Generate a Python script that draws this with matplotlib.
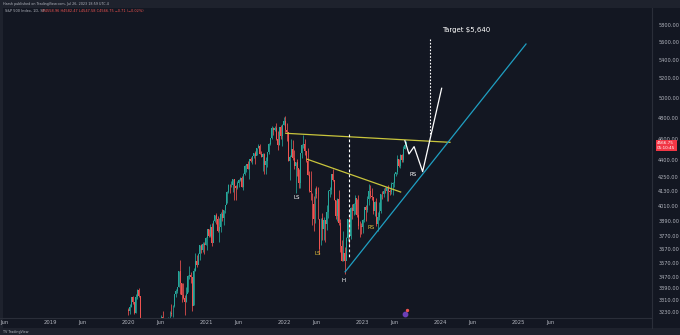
import matplotlib
matplotlib.use("Agg")
import matplotlib.pyplot as plt
import matplotlib.dates as mdates
import matplotlib.ticker as mticker
import matplotlib.transforms as mtransforms
from matplotlib.patches import Rectangle
from matplotlib.lines import Line2D
import numpy as np
import pandas as pd

BG = "#131722"
PANEL = "#1e222d"
BORDER = "#2a2e39"
TEXT = "#b2b5be"
UP = "#26a69a"
DOWN = "#ef5350"
NECK = "#c9c53c"
SUPPORT = "#1f9fc2"

# S&P 500 weekly candles, week ending 2020-01-03 .. 2023-07-26
first_week_end = "2020-01-03"
prev_close = 3240.02

weekly_close = [
    3234.85, 3265.35, 3329.62, 3295.47, 3225.52, 3327.71, 3380.16, 3337.75, 2954.22, 2972.37,
    2711.02, 2304.92, 2541.47, 2488.65, 2789.82, 2874.56, 2836.74, 2830.71, 2929.80, 2863.70,
    2955.45, 3044.31, 3193.93, 3041.31, 3097.74, 3009.05, 3130.01, 3185.04, 3224.73, 3215.63,
    3271.12, 3351.28, 3372.85, 3397.16, 3508.01, 3426.96, 3340.97, 3319.47, 3298.46, 3348.44,
    3477.13, 3483.81, 3465.39, 3269.96, 3509.44, 3585.15, 3557.54, 3638.35, 3699.12, 3663.46,
    3709.41, 3703.06, 3756.07,
    3824.68, 3768.25, 3841.47, 3714.24, 3886.83, 3934.83, 3906.71, 3811.15, 3841.94, 3943.34,
    3913.10, 3974.54, 4019.87, 4128.80, 4185.47, 4180.17, 4181.17, 4232.60, 4173.85, 4155.86,
    4204.11, 4229.89, 4247.44, 4166.45, 4280.70, 4352.34, 4369.55, 4327.16, 4411.79, 4395.26,
    4436.52, 4468.00, 4441.67, 4509.37, 4535.43, 4458.58, 4432.99, 4455.48, 4357.04, 4391.34,
    4471.37, 4544.90, 4605.38, 4697.53, 4682.85, 4697.96, 4594.62, 4538.43, 4712.02, 4620.64,
    4725.79, 4766.18,
    4677.03, 4662.85, 4397.94, 4431.85, 4500.53, 4418.64, 4348.87, 4384.65, 4328.87, 4204.31,
    4463.12, 4543.06, 4545.86, 4488.28, 4392.59, 4271.78, 4131.93, 4123.34, 4023.89, 3901.36,
    4158.24, 4108.54, 3900.86, 3674.84, 3911.74, 3825.33, 3899.38, 3863.16, 3961.63, 4130.29,
    4145.19, 4280.15, 4228.48, 4057.66, 3924.26, 4067.36, 3873.33, 3693.23, 3585.62, 3639.66,
    3583.07, 3752.75, 3901.06, 3770.55, 3992.93, 3965.34, 4026.12, 4071.70, 3934.38, 3852.36,
    3844.82, 3839.50,
    3895.08, 3999.09, 3972.61, 4070.56, 4136.48, 4090.46, 4079.09, 3970.04, 4045.64, 3861.59,
    3916.64, 3970.99, 4109.31, 4105.02, 4137.64, 4133.52, 4169.48, 4136.25, 4124.08, 4191.98,
    4205.45, 4282.37, 4298.86, 4409.59, 4348.33, 4450.38, 4398.95, 4505.42, 4536.34, 4566.75,
]

weekly_high = [
    3258, 3282, 3330, 3338, 3284, 3347, 3385, 3393, 3338, 3136,
    2882, 2613, 2637, 2641, 2818, 2879, 2844, 2954, 2933, 2945,
    2980, 3068, 3211, 3233, 3155, 3154, 3165, 3198, 3233, 3280,
    3279, 3352, 3387, 3399, 3509, 3588, 3425, 3429, 3343, 3397,
    3482, 3550, 3502, 3465, 3529, 3646, 3628, 3644, 3699, 3712,
    3726, 3723, 3760,
    3826, 3823, 3861, 3870, 3894, 3937, 3950, 3929, 3915, 3960,
    3983, 3978, 4021, 4130, 4192, 4195, 4218, 4238, 4237, 4188,
    4219, 4234, 4249, 4262, 4286, 4356, 4372, 4393, 4415, 4429,
    4441, 4468, 4481, 4513, 4546, 4549, 4485, 4465, 4466, 4429,
    4475, 4560, 4608, 4718, 4714, 4718, 4744, 4672, 4713, 4731,
    4740, 4808,
    4819, 4749, 4665, 4453, 4595, 4590, 4490, 4385, 4416, 4320,
    4465, 4546, 4637, 4593, 4471, 4513, 4308, 4308, 4117, 4091,
    4159, 4178, 4169, 3838, 3913, 3950, 3918, 3888, 4013, 4140,
    4167, 4281, 4325, 4203, 4062, 4076, 4140, 3906, 3739, 3807,
    3685, 3762, 3905, 3918, 4001, 4028, 4034, 4101, 4069, 4101,
    3890, 3872,
    3906, 4003, 4015, 4095, 4195, 4182, 4156, 4081, 4048, 4078,
    3964, 4039, 4110, 4133, 4163, 4170, 4170, 4186, 4154, 4213,
    4213, 4290, 4299, 4448, 4410, 4458, 4456, 4528, 4578, 4582,
]

weekly_low = [
    3212, 3214, 3263, 3281, 3214, 3223, 3315, 3328, 2855, 2901,
    2478, 2280, 2192, 2447, 2575, 2727, 2727, 2822, 2797, 2766,
    2906, 2969, 3039, 2999, 2965, 3004, 2999, 3115, 3127, 3201,
    3199, 3260, 3330, 3355, 3401, 3349, 3297, 3314, 3209, 3294,
    3361, 3453, 3425, 3234, 3279, 3511, 3543, 3569, 3594, 3644,
    3648, 3636, 3699,
    3663, 3764, 3766, 3694, 3725, 3884, 3866, 3805, 3723, 3804,
    3885, 3853, 3950, 4035, 4118, 4118, 4167, 4128, 4057, 4062,
    4152, 4168, 4217, 4164, 4145, 4271, 4300, 4320, 4233, 4381,
    4371, 4425, 4367, 4452, 4513, 4457, 4427, 4306, 4279, 4278,
    4339, 4456, 4538, 4596, 4630, 4672, 4586, 4495, 4540, 4600,
    4531, 4733,
    4662, 4582, 4395, 4223, 4435, 4402, 4327, 4115, 4262, 4157,
    4162, 4425, 4517, 4445, 4381, 4267, 4124, 4062, 3859, 3810,
    3875, 4074, 3900, 3637, 3705, 3738, 3743, 3722, 3818, 3911,
    4080, 4107, 4219, 4057, 3906, 3886, 3856, 3648, 3584, 3584,
    3491, 3647, 3735, 3698, 3750, 3906, 3938, 3942, 3918, 3828,
    3765, 3783,
    3794, 3878, 3885, 3960, 4015, 4079, 4060, 3943, 3928, 3847,
    3808, 3899, 3951, 4068, 4087, 4113, 4049, 4048, 4099, 4109,
    4103, 4166, 4260, 4281, 4341, 4328, 4385, 4389, 4505, 4528,
]

# price scale and time axis
price_ticks = [5800, 5600, 5400, 5200, 5000, 4800, 4600, 4400, 4250, 4130,
               4010, 3890, 3770, 3670, 3570, 3470, 3390, 3310, 3230]
time_ticks = ["2018-06-01", "2019-01-01", "2019-06-01", "2020-01-01", "2020-06-01",
              "2021-01-01", "2021-06-01", "2022-01-01", "2022-06-01", "2023-01-01",
              "2023-06-01", "2024-01-01", "2024-06-01", "2025-01-01", "2025-06-01"]
time_labels = ["Jun", "2019", "Jun", "2020", "Jun", "2021", "Jun", "2022", "Jun",
               "2023", "Jun", "2024", "Jun", "2025", "Jun"]

# pattern drawings (anchor date, price)
neck_dates = ["2022-01-08", "2024-02-16"]
neck_prices = [4650, 4565]
inner_dates = ["2022-04-19", "2023-06-30"]
inner_prices = [4410, 4125]
support_dates = ["2022-10-13", "2025-02-06"]
support_prices = [3505, 5579]
path_dates = ["2023-07-20", "2023-08-08", "2023-09-01", "2023-10-11", "2024-01-08"]
path_prices = [4580, 4458, 4525, 4300, 5097]
depth_date = "2022-11-01"
depth_prices = [4640, 3600]
target_date = "2023-11-14"
target_prices = [4640, 5640]

labels = [
    ("Target $5,640", "2024-05-01", 5741, "white", 5.0),
    ("LS", "2022-03-01", 4077, "white", 4.0),
    ("LS", "2022-06-08", 3640, "#e0c43a", 4.0),
    ("H", "2022-10-05", 3442, "white", 4.0),
    ("RS", "2023-02-14", 3835, "#e0c43a", 4.0),
    ("RS", "2023-08-26", 4277, "white", 4.0),
]

W, H = 680, 335
plt.rcParams["font.family"] = ["DejaVu Sans"]
fig = plt.figure(figsize=(W / 100, H / 100), dpi=100, facecolor=BG)

# header and footer bands
fig.add_artist(Rectangle((0, 1 - 8 / H), 1, 8 / H, transform=fig.transFigure,
                         facecolor=PANEL, edgecolor="none", zorder=0))
fig.add_artist(Rectangle((0, 0), 1, 7 / H, transform=fig.transFigure,
                         facecolor=PANEL, edgecolor="none", zorder=0))
fig.add_artist(Rectangle((0, 7 / H), 3 / W, 1 - 15 / H, transform=fig.transFigure,
                         facecolor=PANEL, edgecolor="none", zorder=0))
fig.add_artist(Line2D([652 / W, 652 / W], [7 / H, 1 - 8 / H], transform=fig.transFigure,
                      color=BORDER, lw=0.8))

ax = fig.add_axes([0, 17 / H, 652 / W, 309 / H])
ax.set_facecolor("none")

week_end = pd.date_range(first_week_end, periods=len(weekly_close), freq="W-FRI")
x = mdates.date2num(week_end - pd.Timedelta(days=2))
close = np.array(weekly_close)
opens = np.concatenate([[prev_close], close[:-1]])
high = np.array(weekly_high, dtype=float)
low = np.array(weekly_low, dtype=float)
colors = np.where(close >= opens, UP, DOWN)

ax.vlines(x, low, high, colors=colors, lw=0.55)
body_lo = np.minimum(opens, close)
body_hi = np.maximum(opens, close)
ax.bar(x, body_hi - body_lo, bottom=body_lo, width=4.5, color=colors, edgecolor="none")

ax.set_yscale("log")
ax.set_ylim(3190, 5992)
ax.set_xlim(mdates.datestr2num("2018-05-11"), mdates.datestr2num("2026-09-19"))


def dnum(ds):
    return mdates.datestr2num(ds)


# head and shoulders drawings
ax.plot(dnum(neck_dates), neck_prices, color=NECK, lw=0.9)
ax.plot(dnum(inner_dates), inner_prices, color=NECK, lw=0.9)
ax.plot(dnum(support_dates), support_prices, color=SUPPORT, lw=0.9)
ax.plot(dnum(path_dates), path_prices, color="white", lw=0.9)
ax.plot([dnum(depth_date)] * 2, depth_prices, color="white", lw=0.8, ls=(0, (2.5, 2)))
ax.plot([dnum(target_date)] * 2, target_prices, color="white", lw=0.8, ls=(0, (1.5, 1.5)))

for txt, d, p, c, fs in labels:
    ax.text(dnum(d), p, txt, color=c, fontsize=fs, ha="center", va="center")

# event marker near the time axis
blend = mtransforms.blended_transform_factory(ax.transData, ax.transAxes)
ax.scatter([dnum("2023-07-19")], [0.012], s=10, color="#6a3fb5", transform=blend,
           zorder=5, clip_on=False)
ax.scatter([dnum("2023-07-30")], [0.025], s=2, color="#ef5350", transform=blend,
           zorder=6, clip_on=False)

# axes styling
for side in ["top", "left", "right"]:
    ax.spines[side].set_visible(False)
ax.spines["bottom"].set_color(BORDER)
ax.spines["bottom"].set_linewidth(0.8)

ax.yaxis.tick_right()
ax.yaxis.set_minor_locator(mticker.NullLocator())
ax.yaxis.set_major_locator(mticker.FixedLocator(price_ticks))
ax.yaxis.set_major_formatter(mticker.FuncFormatter(lambda v, pos: f"{v:.2f}"))
ax.tick_params(axis="y", length=0, pad=4.5, labelsize=3.6, labelcolor=TEXT)

ax.set_xticks(dnum(time_ticks))
ax.set_xticklabels(time_labels)
ax.tick_params(axis="x", length=0, pad=1.6, labelsize=3.8, labelcolor=TEXT)

# last price tag: price on the first line, bar countdown below
last = weekly_close[-1]
tag = mtransforms.blended_transform_factory(ax.transAxes, ax.transData)
ax.annotate(f"{last:.2f}\n05:10:45", xy=(1.008, last), xycoords=tag,
            xytext=(0, 0.6), textcoords="offset points", ha="left", va="top",
            fontsize=3.0, color="white", linespacing=1.2, annotation_clip=False,
            bbox=dict(boxstyle="square,pad=0.3", facecolor="#f23645", edgecolor="none"))

# header texts
fig.text(3 / W, 1 - 4 / H, "Harsh published on TradingView.com, Jul 26, 2023 18:59 UTC-4",
         color=TEXT, fontsize=2.4, va="center", ha="left")
fig.text(5 / W, 1 - 11.5 / H, "S&P 500 Index, 1D, SP", color=TEXT, fontsize=2.5,
         va="center", ha="left")
fig.text(42 / W, 1 - 11.5 / H, "O4558.96 H4582.47 L4547.58 C4566.75 \u22120.71 (\u22120.02%)",
         color=DOWN, fontsize=2.5, va="center", ha="left")
fig.text(3 / W, 3.5 / H, "TV TradingView", color=TEXT, fontsize=2.4, va="center", ha="left")

fig.savefig("out.png", dpi=100, facecolor=BG)
